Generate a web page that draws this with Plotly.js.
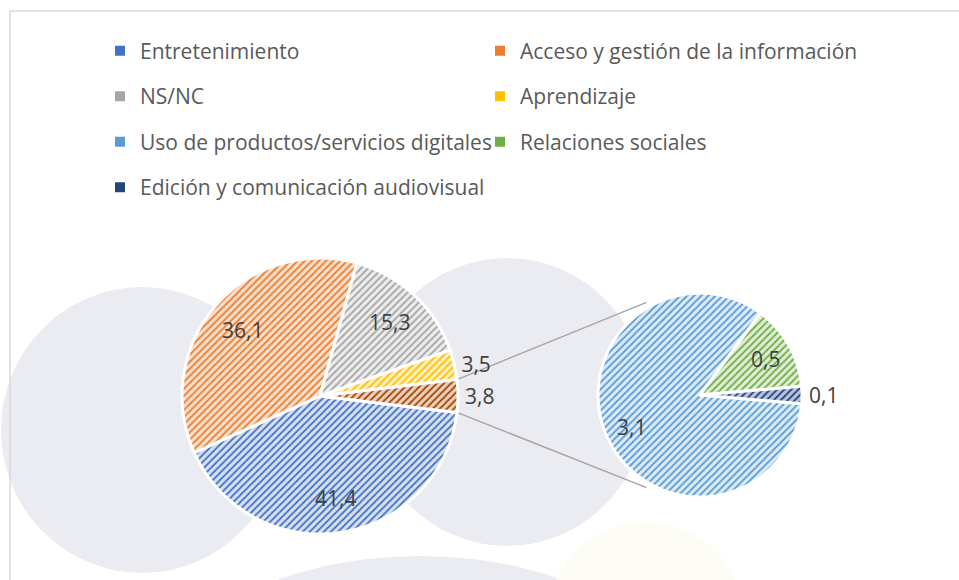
<!DOCTYPE html>
<html>
<head>
<meta charset="utf-8">
<script src="https://cdn.plot.ly/plotly-3.0.1.min.js"></script>
<style>html,body{margin:0;padding:0;background:#fff;}#chart{width:959px;height:580px;}</style>
</head>
<body>
<div id="chart"></div>
<script>
// ---- data ----
const mainLabels = ['Entretenimiento', 'Acceso y gestión de la información', 'NS/NC', 'Aprendizaje', 'Otros'];
const mainValues = [41.4, 36.1, 15.3, 3.5, 3.8];
const mainFg = ['#4472C4', '#ED7D31', '#A5A5A5', '#FFC000', '#9E480E'];
const mainBg = ['#d7e1f3', '#fbe0cc', '#ececec', '#fff0c2', '#efd0b8'];
const mainTextPos = ['inside', 'inside', 'inside', 'outside', 'outside'];

const subLabels = ['Uso de productos/servicios digitales', 'Relaciones sociales', 'Edición y comunicación audiovisual'];
const subValues = [3.1, 0.5, 0.1];
const subFg = ['#5B9BD5', '#70AD47', '#264478'];
const subBg = ['#dcebf8', '#dfeed5', '#b7c4de'];
const subTextPos = ['inside', 'inside', 'outside'];

// legend: categories and their grid cell (row, column)
const legendLabels = mainLabels.slice(0, 4).concat(subLabels);
const legendFg = mainFg.slice(0, 4).concat(subFg);
const legendRow = [0, 0, 1, 1, 2, 2, 3];
const legendCol = [0, 1, 0, 1, 0, 1, 0];

// ---- geometry (layout) ----
const W = 959, H = 580;
const L = 100, R = 150, T = 0, B = 0;
const PW = W - L - R, PH = H - T - B;
const px2x = p => (p - L) / PW;
const px2y = p => 1 - (p - T) / PH;
function dom(cx, cy, r) {
  return { x: [px2x(cx - r), px2x(cx + r)], y: [px2y(cy + r), px2y(cy - r)] };
}
const C1 = { x: 320, y: 396, r: 138 };
const C2 = { x: 700, y: 395, r: 102 };

const sum = a => a.reduce((s, v) => s + v, 0);
const mainTotal = sum(mainValues);
const otherFrac = mainValues[mainValues.length - 1] / mainTotal;
const rot1 = 90 + otherFrac * 180;
const subTotal = sum(subValues);
const rot2 = 90 + (subValues[subValues.length - 1] / subTotal) * 180;

const font = 'Open Sans, Noto Sans, sans-serif';
const labelFont = { family: font, size: 21, color: '#404040' };

function pattern(fg, bg) {
  return { shape: fg.map(() => '/'), fgcolor: fg, bgcolor: bg, size: 5, solidity: 0.36, fillmode: 'replace' };
}
const fmt = v => v.toFixed(1).replace('.', ',');

const traces = [];
traces.push({
  type: 'pie', labels: mainLabels, values: mainValues, sort: false, direction: 'clockwise',
  rotation: rot1, domain: dom(C1.x, C1.y, C1.r), showlegend: false,
  marker: { colors: mainBg, line: { color: '#ffffff', width: 3 }, pattern: pattern(mainFg, mainBg) },
  texttemplate: '%{value:.1f}', textposition: mainTextPos.map(p => p === 'outside' ? 'outside' : 'none'),
  textfont: labelFont, outsidetextfont: labelFont, hoverinfo: 'label+value'
});
traces.push({
  type: 'pie', labels: subLabels, values: subValues, sort: false, direction: 'clockwise',
  rotation: rot2, domain: dom(C2.x, C2.y, C2.r), showlegend: false,
  marker: { colors: subBg, line: { color: '#ffffff', width: 3 }, pattern: pattern(subFg, subBg) },
  texttemplate: '%{value:.1f}', textposition: subTextPos.map(p => p === 'outside' ? 'outside' : 'none'),
  textfont: labelFont, outsidetextfont: labelFont, hoverinfo: 'label+value'
});

const layout = {
  width: W, height: H, margin: { l: L, r: R, t: T, b: B }, paper_bgcolor: '#ffffff', plot_bgcolor: '#ffffff',
  separators: ',.', showlegend: true, shapes: [], annotations: [], font: { family: font }
};

// legend: one single-entry legend per grid cell
const rowCenters = [49.5, 95, 140.5, 186];
const colLeft = [100, 480];
legendLabels.forEach((lab, i) => {
  const key = i === 0 ? 'legend' : 'legend' + (i + 1);
  traces.push({
    type: 'pie', labels: [lab], values: [1], sort: false,
    domain: { x: [0, 0.00001], y: [0, 0.00001] }, textinfo: 'none', hoverinfo: 'skip', legend: key, showlegend: true,
    marker: { colors: [legendFg[i]], line: { color: '#ffffff', width: 2 } }
  });
  layout[key] = {
    orientation: 'h', x: px2x(colLeft[legendCol[i]]), xanchor: 'left',
    y: px2y(rowCenters[legendRow[i]] - 19), yanchor: 'top',
    font: { family: font, size: 21, color: '#595959' }, bgcolor: 'rgba(0,0,0,0)',
    itemclick: false, itemdoubleclick: false
  };
});

// inside data labels, placed along each slice's mid-angle
function insideLabels(values, rot, c, pos) {
  const tot = sum(values);
  let cum = 0;
  values.forEach((v, i) => {
    const mid = (rot + (cum + v / 2) / tot * 360) * Math.PI / 180;
    cum += v;
    if (pos[i] !== 'inside') return;
    const k = 0.74 * c.r;
    const x = c.x + k * Math.sin(mid), y = c.y - k * Math.cos(mid);
    layout.annotations.push({ xref: 'paper', yref: 'paper', x: px2x(x), y: px2y(y + 1),
      xanchor: 'center', yanchor: 'middle', showarrow: false, text: fmt(v), font: labelFont });
  });
}
insideLabels(mainValues, rot1, C1, mainTextPos);
insideLabels(subValues, rot2, C2, subTextPos);

// background watermark + frame
const wm = '#ebebf2';
function circ(cx, cy, rx, ry, color) {
  return { type: 'circle', xref: 'paper', yref: 'paper', layer: 'below',
    x0: px2x(cx - rx), x1: px2x(cx + rx), y0: px2y(cy + ry), y1: px2y(cy - ry),
    fillcolor: color, line: { width: 0 } };
}
layout.shapes.push(circ(420, 690, 250, 134, wm));
layout.shapes.push(circ(645, 610, 95, 88, '#fefdf5'));
layout.shapes.push(circ(142, 430, 141, 143, wm));
layout.shapes.push(circ(507, 402, 140, 144, wm));
layout.shapes.push({ type: 'rect', xref: 'paper', yref: 'paper', layer: 'below',
  x0: px2x(10), x1: px2x(W + 20), y0: px2y(H + 20), y1: px2y(11),
  line: { color: '#d9d9d9', width: 1.5 }, fillcolor: 'rgba(0,0,0,0)' });

// connector lines between the "other" slice and the secondary pie
function pt(c, ang, rr) {
  const a = ang * Math.PI / 180;
  return [c.x + rr * Math.sin(a), c.y - rr * Math.cos(a)];
}
const aTop = rot1 - otherFrac * 360, aBot = rot1;
const p1 = pt(C1, aTop, C1.r), p2 = pt(C1, aBot, C1.r);
const q1 = pt(C2, 330, C2.r + 5), q2 = pt(C2, 210, C2.r + 5);
[[p1, q1], [p2, q2]].forEach(([a, b]) => {
  layout.shapes.push({ type: 'line', xref: 'paper', yref: 'paper', layer: 'below',
    x0: px2x(a[0]), y0: px2y(a[1]), x1: px2x(b[0]), y1: px2y(b[1]),
    line: { color: '#a6a6a6', width: 1.5 } });
});

Plotly.newPlot('chart', traces, layout, { displayModeBar: false, staticPlot: true });
</script>
</body>
</html>
